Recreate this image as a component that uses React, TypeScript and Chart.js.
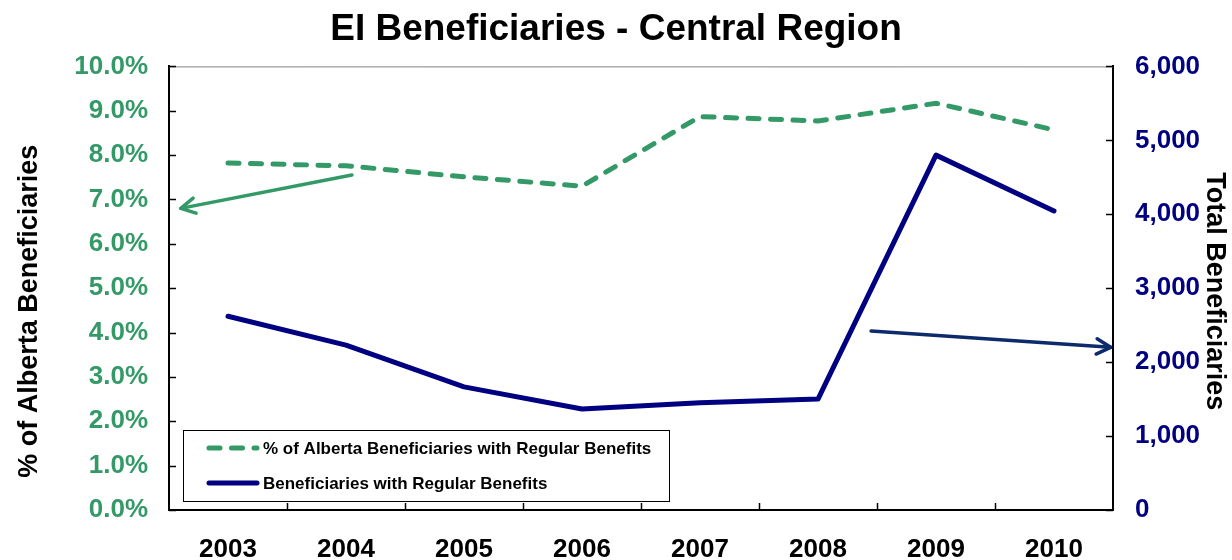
import React, { useEffect, useRef } from "react";
import { Chart, registerables } from "chart.js";

Chart.register(...registerables);

const TITLE = "EI Beneficiaries - Central Region";
const years = ["2003", "2004", "2005", "2006", "2007", "2008", "2009", "2010"];
const pctLabel = "% of Alberta Beneficiaries with Regular Benefits";
const pctValues = [0.0782, 0.0776, 0.0751, 0.073, 0.0887, 0.0877, 0.0917, 0.0857];
const totalLabel = "Beneficiaries with Regular Benefits";
const totalValues = [2620, 2230, 1665, 1365, 1450, 1500, 4800, 4045];
const leftAxisTitle = "% of Alberta Beneficiaries";
const rightAxisTitle = "Total Beneficiaries";
// arrows in data units: [xIndex, value]
const greenArrow = { from: [1.05, 0.0755], to: [-0.4, 0.068] };
const navyArrow = { from: [5.45, 2420], to: [7.48, 2200] };

const GREEN = "#339966";
const NAVY = "#000080";
const ARROW_NAVY = "#0d2a6a";
const FONT = "'Liberation Sans', Arial, sans-serif";

function drawArrow(ctx: CanvasRenderingContext2D, x1: number, y1: number, x2: number, y2: number, color: string) {
  ctx.save();
  ctx.strokeStyle = color;
  ctx.lineWidth = 3.5;
  ctx.lineCap = "round";
  ctx.lineJoin = "round";
  ctx.beginPath();
  ctx.moveTo(x1, y1);
  ctx.lineTo(x2, y2);
  ctx.stroke();
  const ang = Math.atan2(y2 - y1, x2 - x1);
  const len = 16;
  const spread = 0.5;
  ctx.beginPath();
  ctx.moveTo(x2 - len * Math.cos(ang - spread), y2 - len * Math.sin(ang - spread));
  ctx.lineTo(x2, y2);
  ctx.lineTo(x2 - len * Math.cos(ang + spread), y2 - len * Math.sin(ang + spread));
  ctx.stroke();
  ctx.restore();
}

const decorPlugin = {
  id: "decor",
  afterDatasetsDraw(chart: any) {
    const ctx: CanvasRenderingContext2D = chart.ctx;
    const ca = chart.chartArea;
    const x = chart.scales.x;
    const y = chart.scales.y;
    const y1 = chart.scales.y1;
    ctx.save();
    // top border
    ctx.strokeStyle = "#808080";
    ctx.lineWidth = 1;
    ctx.beginPath();
    ctx.moveTo(ca.left, ca.top + 0.5);
    ctx.lineTo(ca.right, ca.top + 0.5);
    ctx.stroke();
    // inward ticks
    ctx.strokeStyle = "#000";
    ctx.lineWidth = 1.5;
    y.ticks.forEach((t: any) => {
      const py = Math.round(y.getPixelForValue(t.value)) + 0.5;
      ctx.beginPath();
      ctx.moveTo(ca.left, py);
      ctx.lineTo(ca.left + 7, py);
      ctx.stroke();
    });
    y1.ticks.forEach((t: any) => {
      const py = Math.round(y1.getPixelForValue(t.value)) + 0.5;
      ctx.beginPath();
      ctx.moveTo(ca.right, py);
      ctx.lineTo(ca.right - 7, py);
      ctx.stroke();
    });
    for (let i = 0; i < years.length - 1; i++) {
      const px = Math.round(x.getPixelForValue(i + 0.5)) + 0.5;
      ctx.beginPath();
      ctx.moveTo(px, ca.bottom);
      ctx.lineTo(px, ca.bottom - 7);
      ctx.stroke();
    }
    ctx.restore();

    // axis titles
    ctx.save();
    ctx.fillStyle = "#000";
    ctx.font = `bold 27px ${FONT}`;
    ctx.textAlign = "center";
    ctx.textBaseline = "alphabetic";
    ctx.translate(37, (ca.top + ca.bottom) / 2 + 23);
    ctx.rotate(-Math.PI / 2);
    ctx.fillText(leftAxisTitle, 0, 0);
    ctx.restore();
    ctx.save();
    ctx.fillStyle = "#000";
    ctx.font = `bold 27px ${FONT}`;
    ctx.textAlign = "center";
    ctx.textBaseline = "alphabetic";
    ctx.translate(1207, (ca.top + ca.bottom) / 2 + 3);
    ctx.rotate(Math.PI / 2);
    ctx.fillText(rightAxisTitle, 0, 0);
    ctx.restore();

    // arrows
    drawArrow(ctx, x.getPixelForValue(greenArrow.from[0]), y.getPixelForValue(greenArrow.from[1]),
      x.getPixelForValue(greenArrow.to[0]), y.getPixelForValue(greenArrow.to[1]), GREEN);
    drawArrow(ctx, x.getPixelForValue(navyArrow.from[0]), y1.getPixelForValue(navyArrow.from[1]),
      x.getPixelForValue(navyArrow.to[0]), y1.getPixelForValue(navyArrow.to[1]), ARROW_NAVY);

    // legend box
    const bx = ca.left + 14;
    const bw = 486;
    const bh = 71;
    const by = ca.bottom - 9 - bh;
    ctx.save();
    ctx.fillStyle = "#fff";
    ctx.fillRect(bx, by, bw, bh);
    ctx.strokeStyle = "#000";
    ctx.lineWidth = 1;
    ctx.strokeRect(Math.round(bx) + 0.5, Math.round(by) + 0.5, bw, bh);
    const rows = [
      { label: pctLabel, color: GREEN, dash: true, yy: by + 18 },
      { label: totalLabel, color: NAVY, dash: false, yy: by + 53 },
    ];
    rows.forEach((r) => {
      ctx.strokeStyle = r.color;
      ctx.lineWidth = 5;
      ctx.lineCap = "round";
      ctx.setLineDash(r.dash ? [11, 11.5] : []);
      ctx.beginPath();
      ctx.moveTo(bx + 26, r.yy);
      ctx.lineTo(bx + 74, r.yy);
      ctx.stroke();
      ctx.setLineDash([]);
      ctx.fillStyle = "#000";
      ctx.font = `bold 17px ${FONT}`;
      ctx.textBaseline = "middle";
      ctx.textAlign = "left";
      ctx.fillText(r.label, bx + 80, r.yy + 1);
    });
    ctx.restore();
  },
};

export default function App() {
  const ref = useRef<HTMLCanvasElement | null>(null);
  useEffect(() => {
    document.body.style.margin = "0";
    if (!ref.current) return;
    const chart = new Chart(ref.current, {
      type: "line",
      data: {
        labels: years,
        datasets: [
          {
            label: pctLabel,
            data: pctValues,
            yAxisID: "y",
            borderColor: GREEN,
            backgroundColor: GREEN,
            borderWidth: 5,
            borderDash: [11, 11.5],
            borderCapStyle: "round",
            pointRadius: 0,
            tension: 0,
          },
          {
            label: totalLabel,
            data: totalValues,
            yAxisID: "y1",
            borderColor: NAVY,
            backgroundColor: NAVY,
            borderWidth: 5,
            borderCapStyle: "round",
            borderJoinStyle: "round",
            pointRadius: 0,
            tension: 0,
          },
        ],
      },
      options: {
        responsive: false,
        animation: false,
        devicePixelRatio: 1,
        layout: { padding: 0 },
        plugins: {
          legend: { display: false },
          tooltip: { enabled: false },
          title: {
            display: true,
            text: TITLE,
            color: "#000",
            font: { family: FONT, size: 37, weight: "bold" },
            padding: { top: 8, bottom: 14 },
          },
        },
        scales: {
          x: {
            type: "category",
            offset: true,
            grid: { display: false, offset: true, drawTicks: false },
            border: { display: true, color: "#000", width: 2 },
            ticks: {
              color: "#000",
              font: { family: FONT, size: 26, weight: "bold" },
              padding: 24,
              maxRotation: 0,
              autoSkip: false,
            },
            afterFit: (s: any) => {
              s.height = 50;
            },
          },
          y: {
            position: "left",
            min: 0,
            max: 0.1,
            grid: { display: false, drawTicks: false },
            border: { display: true, color: "#000", width: 2 },
            ticks: {
              stepSize: 0.01,
              color: GREEN,
              font: { family: FONT, size: 26, weight: "bold" },
              padding: 21,
              callback: (v: any) => (Number(v) * 100).toFixed(1) + "%",
            },
            afterFit: (s: any) => {
              s.width = 169;
            },
          },
          y1: {
            position: "right",
            min: 0,
            max: 6000,
            grid: { display: false, drawTicks: false },
            border: { display: true, color: "#000", width: 2 },
            ticks: {
              stepSize: 1000,
              color: NAVY,
              font: { family: FONT, size: 26, weight: "bold" },
              padding: 22,
              callback: (v: any) => Number(v).toLocaleString("en-US"),
            },
            afterFit: (s: any) => {
              s.width = 119;
            },
          },
        },
      },
      plugins: [decorPlugin],
    });
    return () => chart.destroy();
  }, []);
  return (
    <div style={{ width: 1232, height: 560 }}>
      <canvas ref={ref} width={1232} height={560} style={{ display: "block" }} />
    </div>
  );
}
